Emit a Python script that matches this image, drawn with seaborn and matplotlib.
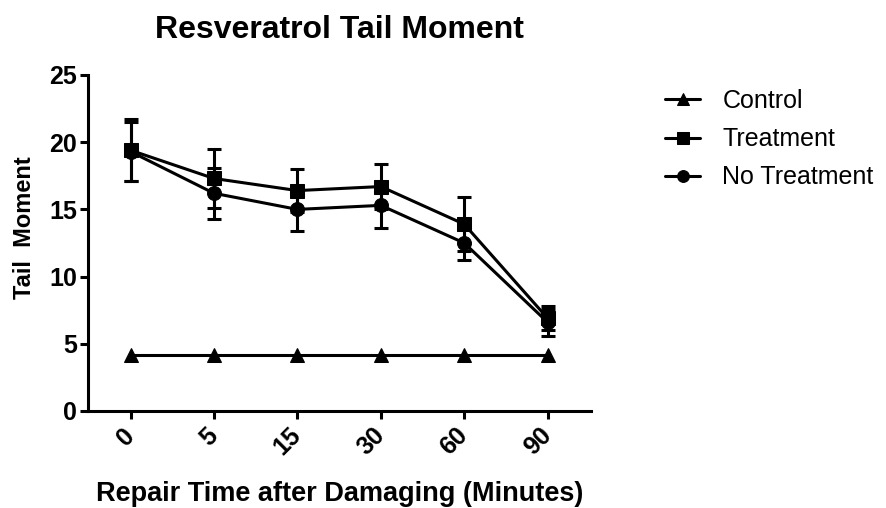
import matplotlib
matplotlib.use("Agg")
import matplotlib.pyplot as plt
import seaborn as sns
import pandas as pd

# Data (mean +/- error)
times = ["0", "5", "15", "30", "60", "90"]
control = [4.2, 4.2, 4.2, 4.2, 4.2, 4.2]
treatment = [19.4, 17.3, 16.4, 16.7, 13.9, 6.9]
treatment_err = [2.3, 2.2, 1.6, 1.7, 2.0, 0.9]
no_treatment = [19.3, 16.2, 15.0, 15.3, 12.5, 6.6]
no_treatment_err = [2.2, 1.9, 1.6, 1.7, 1.3, 1.0]

series = ["Control", "Treatment", "No Treatment"]
markers = {"Control": "^", "Treatment": "s", "No Treatment": "o"}

df = pd.DataFrame({
    "time": times * 3,
    "value": control + treatment + no_treatment,
    "group": ["Control"] * 6 + ["Treatment"] * 6 + ["No Treatment"] * 6,
})

sns.set_style("ticks", {"text.color": "black", "axes.labelcolor": "black",
                        "xtick.color": "black", "ytick.color": "black",
                        "axes.edgecolor": "black"})
plt.rcParams["font.family"] = ["Liberation Sans", "DejaVu Sans"]

fig, ax = plt.subplots(figsize=(8.86, 5.08), dpi=100)
fig.subplots_adjust(left=88 / 886, right=591 / 886, bottom=1 - 411 / 508, top=1 - 75 / 508)

# error bars first so markers sit on top
ax.errorbar(times, treatment, yerr=treatment_err, fmt="none", ecolor="black",
            elinewidth=2.2, capsize=5, capthick=2.2, zorder=2)
ax.errorbar(times, no_treatment, yerr=no_treatment_err, fmt="none", ecolor="black",
            elinewidth=2.2, capsize=5, capthick=2.2, zorder=2)

sns.lineplot(data=df, x="time", y="value", hue="group", style="group",
             hue_order=series, style_order=series,
             palette={s: "black" for s in series}, markers=markers, dashes=False,
             markersize=10, markeredgecolor="black", linewidth=2.2, ax=ax, zorder=3)

ax.set_xlim(-0.51, 5.52)
ax.set_ylim(0, 25)
ax.set_yticks([0, 5, 10, 15, 20, 25])

for side in ["top", "right"]:
    ax.spines[side].set_visible(False)
for side in ["left", "bottom"]:
    ax.spines[side].set_linewidth(2.2)
ax.tick_params(axis="both", width=2.2, length=6, labelsize=18, colors="black")
ax.tick_params(axis="y", pad=2)
ax.tick_params(axis="x", pad=9)
for lab in ax.get_yticklabels():
    lab.set_fontweight("bold")
for lab in ax.get_xticklabels():
    lab.set_fontweight("bold")
    lab.set_rotation(45)
    lab.set_ha("right")
    lab.set_va("center")
    lab.set_rotation_mode("anchor")

ax.set_title("Resveratrol Tail Moment", fontsize=23, fontweight="bold", pad=27,
             color="black")
ax.set_xlabel("Repair Time after Damaging (Minutes)", fontsize=19.5,
              fontweight="bold", va="baseline")
ax.xaxis.set_label_coords(0.5, -(501 - 411) / 336)
ax.set_ylabel("Tail  Moment", fontsize=17, fontweight="bold", va="center")
ax.yaxis.set_label_coords(-64 / 503, (411 - 227.5) / 336)

handles, labels = ax.get_legend_handles_labels()
ax.legend(handles, labels, loc="upper left", bbox_to_anchor=(665 / 886, 1 - 89 / 508),
          bbox_transform=fig.transFigure, frameon=False, fontsize=18,
          handlelength=1.4, handletextpad=0.9, labelspacing=0.57, borderpad=0,
          borderaxespad=0, title=None, markerscale=0.85)

fig.savefig("out.png", dpi=100)
